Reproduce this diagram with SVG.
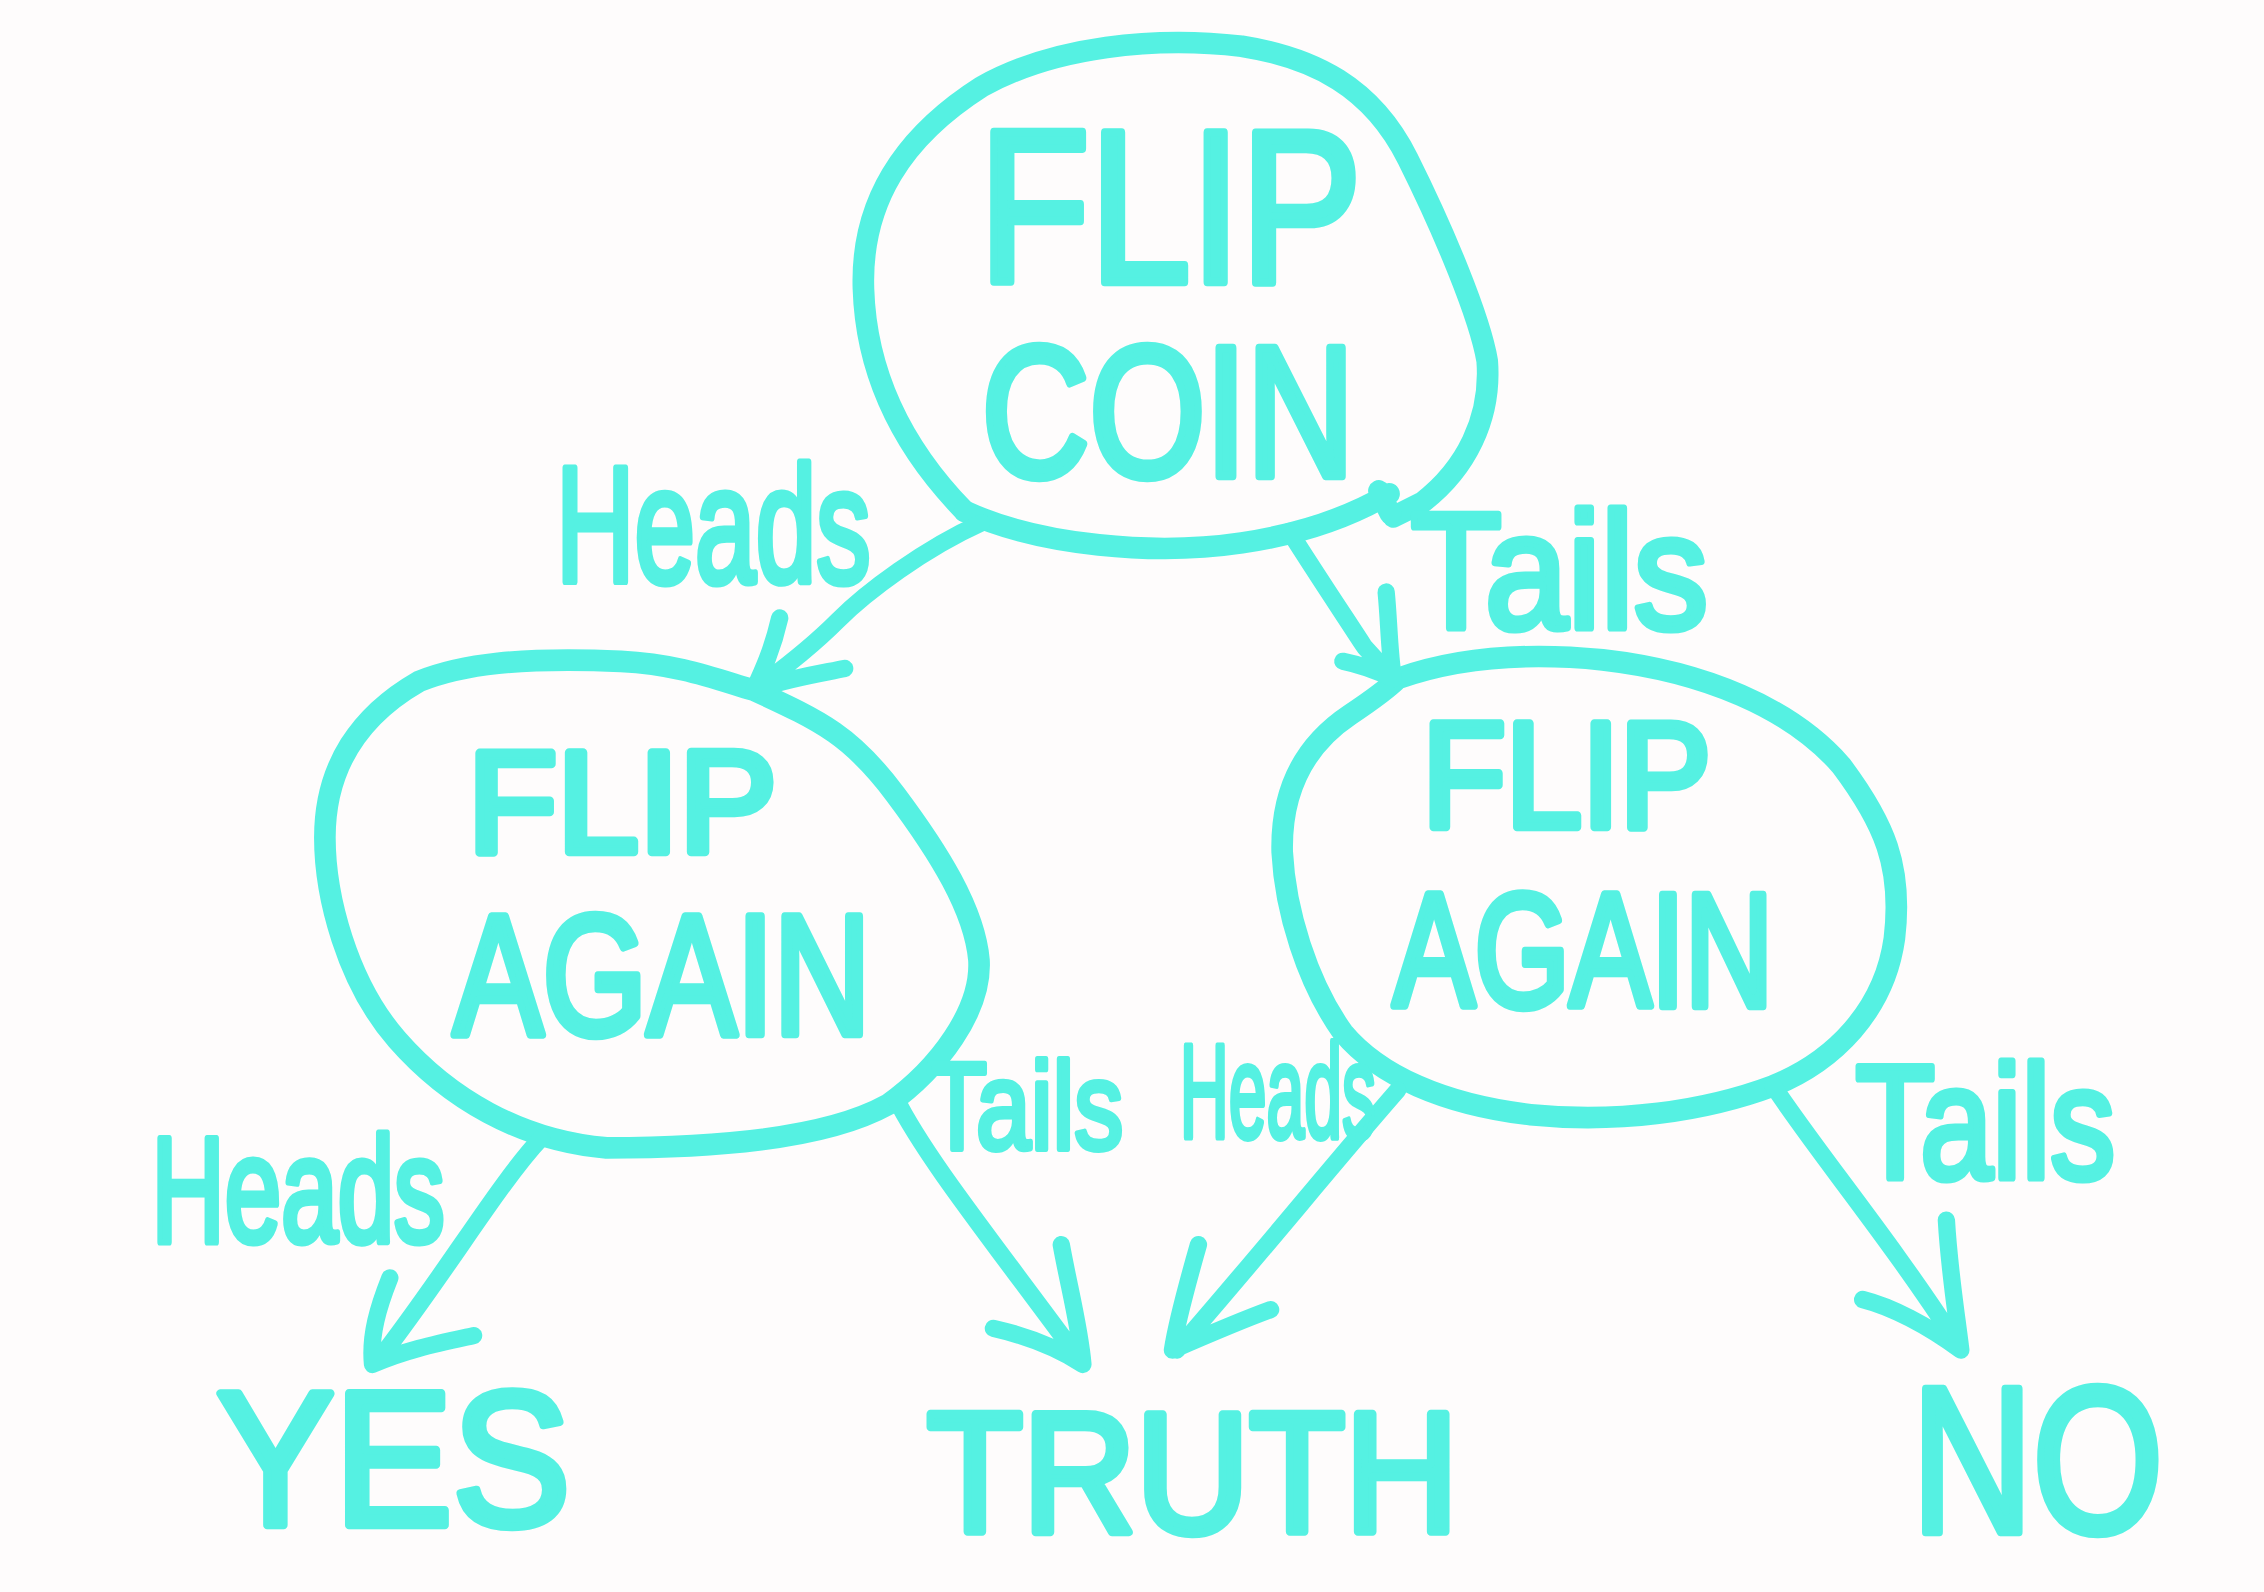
<svg xmlns="http://www.w3.org/2000/svg" width="2264" height="1592" viewBox="0 0 2264 1592">
<style>
.ink{fill:none;stroke:#55f1e2;stroke-linecap:round;stroke-linejoin:round}
.t{font-family:"Liberation Sans",Arial,sans-serif;fill:#55f1e2;stroke:#55f1e2;stroke-linejoin:round}
</style>
<rect width="2264" height="1592" fill="#fefcfc"/>
<g transform="scale(1.4439)">
  <g id="node-flip-coin">
    <path class="ink" stroke-width="15" d="M 668 354 C 630 315, 600 265, 598 200 C 596 140, 625 95, 680 60 C 730 32, 800 25, 860 32 C 910 40, 950 60, 975 110 C 1000 160, 1025 220, 1030 250 C 1033 290, 1015 325, 985 348 L 965 358"/>
    <path class="ink" stroke-width="15" d="M 668 354 C 720 378, 800 385, 860 376 C 900 370, 935 358, 962 342 M 955 340 L 963 356"/>
    <text class="t" stroke-width="6" x="678" y="195" font-size="150" textLength="265" lengthAdjust="spacingAndGlyphs">FLIP</text>
    <text class="t" stroke-width="6" x="680" y="330" font-size="128" textLength="258" lengthAdjust="spacingAndGlyphs">COIN</text>
  </g>
  <g id="node-flip-again-left">
    <path class="ink" stroke-width="15" d="M 522 478 C 570 500, 590 510, 620 550 C 650 590, 675 630, 678 665 C 680 700, 650 740, 615 765 C 570 790, 490 795, 420 795 C 360 790, 310 760, 275 720 C 240 680, 225 620, 225 580 C 225 530, 250 495, 290 472 C 320 460, 360 455, 430 458 C 470 460, 495 470, 522 478 Z"/>
    <text class="t" stroke-width="6" x="324" y="590" font-size="100" textLength="214" lengthAdjust="spacingAndGlyphs">FLIP</text>
    <text class="t" stroke-width="6" x="314" y="716" font-size="118" textLength="289" lengthAdjust="spacingAndGlyphs">AGAIN</text>
  </g>
  <g id="node-flip-again-right">
    <path class="ink" stroke-width="15" d="M 968 470 C 1010 455, 1060 452, 1110 457 C 1180 465, 1240 490, 1275 530 C 1305 570, 1318 600, 1312 650 C 1305 700, 1270 735, 1228 752 C 1180 770, 1120 778, 1060 772 C 1000 765, 955 745, 930 715 C 905 680, 890 630, 888 590 C 887 545, 905 515, 935 495 C 950 485, 960 478, 968 470 Z"/>
    <text class="t" stroke-width="6" x="985" y="573" font-size="104" textLength="200" lengthAdjust="spacingAndGlyphs">FLIP</text>
    <text class="t" stroke-width="6" x="965" y="697" font-size="112" textLength="263" lengthAdjust="spacingAndGlyphs">AGAIN</text>
  </g>
  <g id="node-yes">
    <text class="t" stroke-width="6" x="150" y="1056" font-size="132" textLength="245" lengthAdjust="spacingAndGlyphs">YES</text>
  </g>
  <g id="node-truth">
    <text class="t" stroke-width="6" x="642" y="1061" font-size="118" textLength="368" lengthAdjust="spacingAndGlyphs">TRUTH</text>
  </g>
  <g id="node-no">
    <text class="t" stroke-width="6" x="1324" y="1061" font-size="144" textLength="174" lengthAdjust="spacingAndGlyphs">NO</text>
  </g>
  <g id="connectors">
    <g id="edge-coin-heads">
      <path class="ink" stroke-width="12" d="M 680 362 C 640 380, 600 410, 580 430 C 560 450, 540 465, 522 478 M 540 428 C 535 450, 528 465, 522 478 C 545 470, 565 467, 585 463"/>
      <text class="t" stroke-width="5" x="385" y="403" font-size="114" textLength="218" lengthAdjust="spacingAndGlyphs">Heads</text>
    </g>
    <g id="edge-coin-tails">
      <path class="ink" stroke-width="12" d="M 893 368 C 910 395, 930 425, 945 448 L 965 470 M 960 410 C 962 430, 962 450, 965 470 C 950 463, 940 460, 930 458"/>
      <text class="t" stroke-width="5" x="977" y="435" font-size="114" textLength="206" lengthAdjust="spacingAndGlyphs">Tails</text>
    </g>
    <g id="edge-left-heads">
      <path class="ink" stroke-width="12" d="M 375 788 C 345 820, 310 880, 262 942 M 270 885 C 262 905, 256 925, 258 945 C 280 935, 305 930, 328 925"/>
      <text class="t" stroke-width="5" x="105" y="860" font-size="104" textLength="203" lengthAdjust="spacingAndGlyphs">Heads</text>
    </g>
    <g id="edge-left-tails">
      <path class="ink" stroke-width="12" d="M 620 760 C 640 800, 680 850, 748 942 M 735 862 C 740 890, 748 920, 750 945 C 730 932, 710 925, 688 920"/>
      <text class="t" stroke-width="4" x="642" y="796" font-size="86" textLength="136" lengthAdjust="spacingAndGlyphs">Tails</text>
    </g>
    <g id="edge-right-heads">
      <path class="ink" stroke-width="12" d="M 968 755 C 920 810, 880 860, 815 935 M 830 862 C 822 890, 815 915, 812 935 C 835 925, 858 915, 880 907"/>
      <text class="t" stroke-width="4" x="817" y="788" font-size="92" textLength="136" lengthAdjust="spacingAndGlyphs">Heads</text>
    </g>
    <g id="edge-right-tails">
      <path class="ink" stroke-width="12" d="M 1228 752 C 1260 800, 1310 860, 1355 930 M 1348 845 C 1350 880, 1355 910, 1358 935 C 1335 918, 1310 905, 1290 900"/>
      <text class="t" stroke-width="5" x="1285" y="816" font-size="112" textLength="180" lengthAdjust="spacingAndGlyphs">Tails</text>
    </g>
  </g>
</g>
</svg>
